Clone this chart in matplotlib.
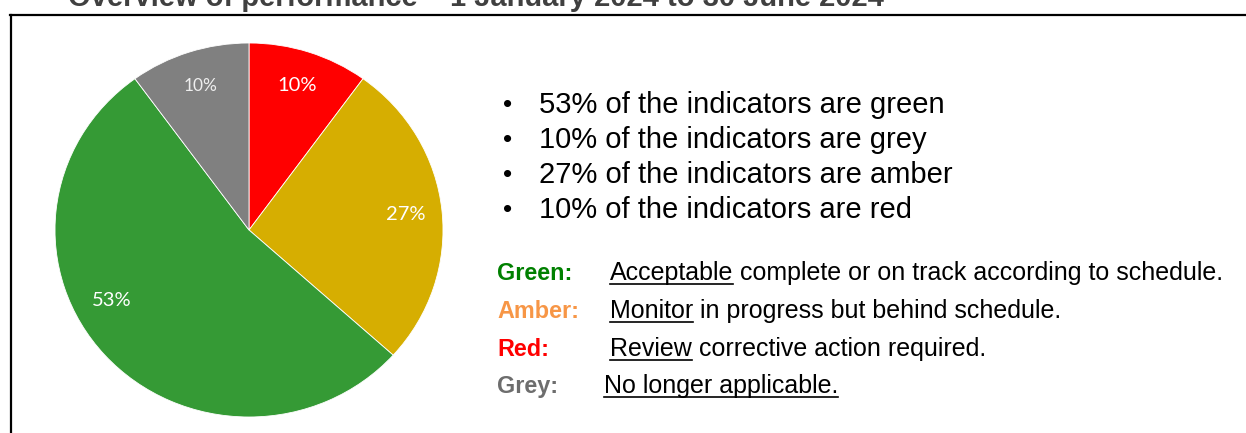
import matplotlib
matplotlib.use('Agg')
import numpy as np
import matplotlib.pyplot as plt
from matplotlib.lines import Line2D

# Indicator counts (share of 30 indicators), clockwise from 12 o'clock
statuses = ['Red', 'Amber', 'Green', 'Grey']
counts = [3, 8, 16, 3]
slice_colors = ['#FF0000', '#D6AE01', '#359A35', '#808080']

title = 'Overview of performance \u2013 1 January 2024 to 30 June 2024'

bullets = [
    '53% of the indicators are green',
    '10% of the indicators are grey',
    '27% of the indicators are amber',
    '10% of the indicators are red',
]

key_labels = ['Green:', 'Amber:', 'Red:', 'Grey:']
key_colors = ['#008000', '#F79646', '#FF0000', '#6D6D6D']
key_underlined = ['Acceptable', 'Monitor', 'Review', 'No longer applicable.']
key_rest = [' complete or on track according to schedule.',
            ' in progress but behind schedule.',
            ' corrective action required.',
            '']

W, H = 1246, 433
fig = plt.figure(figsize=(W / 100, H / 100), dpi=100)

def fx(px):
    return px / W

def fy(py):
    return 1 - py / H

# frame around the slide content
fig.add_artist(Line2D([fx(11), fx(11)], [fy(15), fy(440)], color='black', lw=1.6))
fig.add_artist(Line2D([fx(10), fx(1250)], [fy(15), fy(15)], color='black', lw=1.6))

# title, cut off by the top of the slide crop
fig.text(fx(68), fy(6), title, fontsize=21, fontweight='bold', color='#404040',
         family='Liberation Sans', va='baseline', ha='left')

# pie
cx, cy, rx, ry = 249, 230, 194, 187
ax = fig.add_axes([fx(cx - rx), fy(cy + ry), 2 * rx / W, 2 * ry / H])
wedges, texts, autotexts = ax.pie(counts, colors=slice_colors, startangle=90,
                                  counterclock=False, autopct='%.0f%%', pctdistance=0.81,
                                  wedgeprops=dict(edgecolor='white', linewidth=0.6),
                                  textprops=dict(color='white', fontsize=14.5, family='Lato'))
ax.set_aspect('auto')
ax.set_xlim(-1, 1)
ax.set_ylim(-1, 1)
autotexts[3].set_fontsize(12.5)
autotexts[3].set_color('#EEEEEE')
# Excel's best-fit placement pushes the green label further round
a = np.deg2rad(90 - 242)
autotexts[2].set_position((0.8 * np.cos(a), 0.8 * np.sin(a)))

# bullet list
for i, line in enumerate(bullets):
    y = fy(105 + i * 35)
    fig.text(fx(503), y, '\u2022', fontsize=19, family='Liberation Sans', va='center')
    fig.text(fx(539), y, line, fontsize=21, family='Liberation Sans', va='center')

# key
fig.canvas.draw()
renderer = fig.canvas.get_renderer()
key_y = [273, 311, 349, 386]
key_x = [610, 610, 610, 604]
for i in range(4):
    y = fy(key_y[i])
    fig.text(fx(497), y, key_labels[i], fontsize=16.8, fontweight='bold',
             color=key_colors[i], family='Liberation Sans', va='center')
    t = fig.text(fx(key_x[i]), y, key_underlined[i], fontsize=18,
                 family='Liberation Sans', va='center')
    bb = t.get_window_extent(renderer)
    fig.text(bb.x1 / W, y, key_rest[i], fontsize=18, family='Liberation Sans', va='center')
    uy = (bb.y0 + 1) / H
    fig.add_artist(Line2D([bb.x0 / W, bb.x1 / W], [uy, uy], color='black', lw=1.2))

fig.savefig('out.png', dpi=100)
